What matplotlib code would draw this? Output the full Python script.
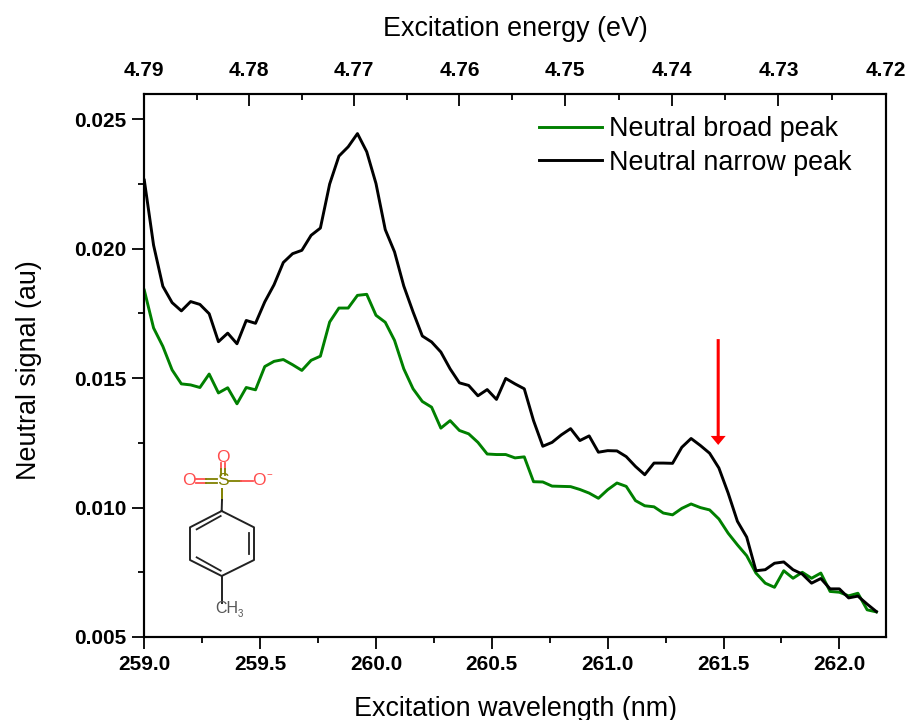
import matplotlib
matplotlib.use('Agg')
import matplotlib.pyplot as plt

plt.rcParams['font.family'] = ['Liberation Sans', 'DejaVu Sans']

# Excitation wavelength (nm)
wavelength = [259.00, 259.04, 259.08, 259.12, 259.16, 259.20, 259.24, 259.28, 259.32, 259.36,
              259.40, 259.44, 259.48, 259.52, 259.56, 259.60, 259.64, 259.68, 259.72, 259.76,
              259.80, 259.84, 259.88, 259.92, 259.96, 260.00, 260.04, 260.08, 260.12, 260.16,
              260.20, 260.24, 260.28, 260.32, 260.36, 260.40, 260.44, 260.48, 260.52, 260.56,
              260.60, 260.64, 260.68, 260.72, 260.76, 260.80, 260.84, 260.88, 260.92, 260.96,
              261.00, 261.04, 261.08, 261.12, 261.16, 261.20, 261.24, 261.28, 261.32, 261.36,
              261.40, 261.44, 261.48, 261.52, 261.56, 261.60, 261.64, 261.68, 261.72, 261.76,
              261.80, 261.84, 261.88, 261.92, 261.96, 262.00, 262.04, 262.08, 262.12, 262.16]

broad_peak = [.01840, .01694, .01623, .01532, .01478, .01474, .01464, .01516, .01443, .01463,
              .01401, .01464, .01455, .01545, .01565, .01572, .01552, .01530, .01569, .01585,
              .01717, .01771, .01771, .01820, .01824, .01743, .01716, .01646, .01536, .01459,
              .01410, .01388, .01307, .01336, .01298, .01285, .01252, .01207, .01205, .01205,
              .01192, .01196, .01100, .01099, .01083, .01082, .01081, .01070, .01056, .01036,
              .01069, .01095, .01082, .01027, .01007, .01003, .00979, .00972, .00997, .01014,
              .01000, .00991, .00956, .00901, .00856, .00814, .00747, .00708, .00692, .00756,
              .00727, .00750, .00727, .00747, .00676, .00673, .00659, .00669, .00605, .00597]

narrow_peak = [.02265, .02014, .01855, .01792, .01760, .01796, .01785, .01749, .01641, .01674,
               .01633, .01723, .01712, .01795, .01861, .01947, .01981, .01994, .02052, .02080,
               .02250, .02358, .02394, .02445, .02375, .02252, .02074, .01988, .01856, .01756,
               .01663, .01640, .01601, .01536, .01482, .01472, .01432, .01456, .01418, .01499,
               .01478, .01459, .01336, .01237, .01252, .01281, .01305, .01259, .01277, .01214,
               .01220, .01219, .01197, .01159, .01127, .01172, .01172, .01171, .01233, .01267,
               .01240, .01210, .01153, .01056, .00947, .00886, .00756, .00760, .00785, .00790,
               .00760, .00743, .00708, .00726, .00686, .00686, .00651, .00658, .00627, .00598]

# top axis ticks, placed at the wavelength they sit over in the picture
energy_labels = ['4.79', '4.78', '4.77', '4.76', '4.75', '4.74', '4.73', '4.72']
energy_pos = [259.0, 259.453, 259.906, 260.36, 260.817, 261.277, 261.737, 262.2]
energy_minor = [259.227, 259.68, 260.133, 260.588, 261.047, 261.507, 261.968]

fig = plt.figure(figsize=(9.08, 7.2), dpi=100)
ax = fig.add_axes([144.3 / 908, 83 / 720, 741.4 / 908, 543 / 720])

ax.plot(wavelength, broad_peak, color='#008000', lw=2.1, label='Neutral broad peak')
ax.plot(wavelength, narrow_peak, color='black', lw=2.1, label='Neutral narrow peak')

ax.set_xlim(259, 262.2)
ax.set_ylim(0.005, 0.02598)
ax.set_xticks([259.0, 259.5, 260.0, 260.5, 261.0, 261.5, 262.0])
ax.set_xticks([259.25, 259.75, 260.25, 260.75, 261.25, 261.75], minor=True)
ax.set_xticklabels(['259.0', '259.5', '260.0', '260.5', '261.0', '261.5', '262.0'])
ax.set_yticks([0.005, 0.010, 0.015, 0.020, 0.025])
ax.set_yticks([0.0075, 0.0125, 0.0175, 0.0225], minor=True)
ax.set_yticklabels(['0.005', '0.010', '0.015', '0.020', '0.025'])
ax.tick_params(which='major', length=8.5, width=1.3, labelsize=15, pad=4.5)
ax.tick_params(which='minor', length=4.5, width=1.3)
for lab in ax.get_xticklabels() + ax.get_yticklabels():
    lab.set_fontweight('bold')
ax.set_xlabel('Excitation wavelength (nm)', fontsize=19.4, labelpad=15.5)
ax.set_ylabel('Neutral signal (au)', fontsize=19.4, labelpad=23, y=0.4917)

# top axis
ax2 = ax.twiny()
ax2.set_xlim(259, 262.2)
ax2.set_xticks(energy_pos)
ax2.set_xticklabels(energy_labels, fontweight='bold')
ax2.set_xticks(energy_minor, minor=True)
ax2.tick_params(which='major', direction='in', length=8.5, width=1.3, labelsize=15, pad=10)
ax2.tick_params(which='minor', direction='in', length=4.5, width=1.3)
ax2.set_xlabel('Excitation energy (eV)', fontsize=19.4, labelpad=18)

for a in [ax, ax2]:
    for s in a.spines.values():
        s.set_linewidth(1.5)

ax.legend(loc='upper left', bbox_to_anchor=(539 / 908, 1 - 116 / 720), bbox_transform=fig.transFigure,
          frameon=False, fontsize=19.4, handlelength=2.35, handletextpad=0.26, labelspacing=0.28,
          borderpad=0, borderaxespad=0)

# red arrow
ax.annotate('', xy=(261.477, 0.01242), xytext=(261.477, 0.01651),
            arrowprops=dict(facecolor='red', edgecolor='red', width=2.2, headwidth=10.8,
                            headlength=6.5, shrink=0, lw=0))

# molecule drawn in its own little axes
mol = fig.add_axes([130 / 908, 1 - 640 / 720, 160 / 908, 200 / 720])
mol.set_xlim(0, 480)
mol.set_ylim(600, 0)
mol.axis('off')
mol.patch.set_alpha(0)

ring_x = [275, 372, 372, 275, 180, 180, 275]
ring_y = [213, 262, 360, 408, 360, 262, 213]
mol.plot(ring_x, ring_y, color='#222222', lw=1.4)
mol.plot([200, 272], [268, 228], color='#222222', lw=1.3)
mol.plot([356, 356], [280, 342], color='#222222', lw=1.3)
mol.plot([200, 272], [352, 392], color='#222222', lw=1.3)
mol.plot([275, 275], [408, 488], color='#222222', lw=1.4)
mol.plot([276, 276], [148, 180], color='#808000', lw=1.4)
mol.plot([276, 275], [180, 213], color='#222222', lw=1.4)
for off in [-6, 6]:
    mol.plot([278 + off, 278 + off], [70, 88], color='#ff5050', lw=1.3)
    mol.plot([278 + off, 278 + off], [88, 105], color='#808000', lw=1.3)
    mol.plot([198, 228], [122 + off, 122 + off], color='#ff5050', lw=1.3)
    mol.plot([228, 260], [122 + off, 122 + off], color='#808000', lw=1.3)
mol.plot([298, 333], [122, 122], color='#808000', lw=1.3)
mol.plot([333, 368], [122, 122], color='#ff5050', lw=1.3)
atom = dict(ha='center', va='center', fontsize=12.5)
mol.text(278, 52, 'O', color='#ff4d4d', **atom)
mol.text(178, 122, 'O', color='#ff4d4d', **atom)
mol.text(388, 122, 'O', color='#ff4d4d', **atom)
mol.text(278, 122, 'S', color='#808000', **atom)
mol.text(417, 105, '\u2212', color='#ff4d4d', ha='center', va='center', fontsize=7)
mol.text(290, 505, 'CH', color='#555555', ha='center', va='center', fontsize=11.5)
mol.text(331, 521, '3', color='#555555', ha='center', va='center', fontsize=7)

fig.savefig('out.png', dpi=100)
